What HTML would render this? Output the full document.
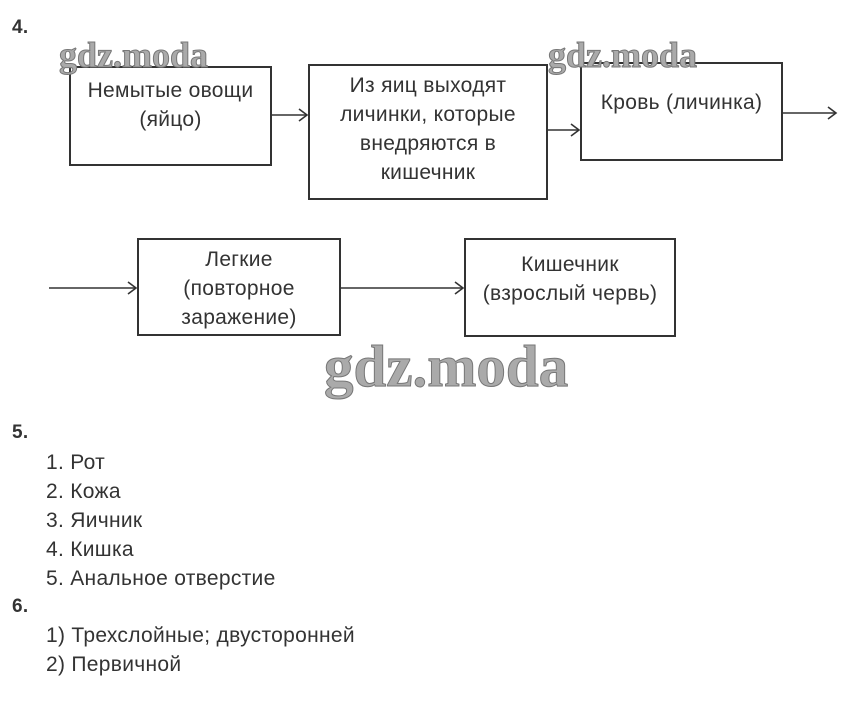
<!DOCTYPE html>
<html><head><meta charset="utf-8"><style>
body{margin:0;width:847px;height:726px;background:#fff;position:relative;overflow:hidden;font-family:"Liberation Sans",sans-serif;color:#333;}
.t{position:absolute;font-size:21px;letter-spacing:0.3px;line-height:29px;white-space:nowrap;}
.b{position:absolute;border:2px solid #333;box-sizing:border-box;}
.c{position:absolute;font-size:21px;letter-spacing:0.3px;line-height:29px;text-align:center;color:#333;white-space:nowrap;}
.w{position:absolute;font-family:"Liberation Serif",serif;font-weight:bold;color:#aaa;-webkit-text-stroke:1px #777;letter-spacing:0px;white-space:nowrap;}
</style></head><body>
<div class="t" style="left:12px;top:13px;font-weight:bold;font-size:19px;">4.</div>

<div class="b" style="left:69px;top:66px;width:203px;height:100px;"></div>
<div class="c" style="left:69px;top:76px;width:203px;">Немытые овощи<br>(яйцо)</div>
<div class="b" style="left:308px;top:64px;width:240px;height:136px;"></div>
<div class="c" style="left:308px;top:71px;width:240px;">Из яиц выходят<br>личинки, которые<br>внедряются в<br>кишечник</div>
<div class="b" style="left:580px;top:62px;width:203px;height:99px;"></div>
<div class="c" style="left:580px;top:88px;width:203px;">Кровь (личинка)</div>
<div class="b" style="left:137px;top:238px;width:204px;height:98px;"></div>
<div class="c" style="left:137px;top:245px;width:204px;">Легкие<br>(повторное<br>заражение)</div>
<div class="b" style="left:464px;top:238px;width:212px;height:99px;"></div>
<div class="c" style="left:464px;top:250px;width:212px;">Кишечник<br>(взрослый червь)</div>

<svg style="position:absolute;left:0;top:0" width="847" height="726">
<g stroke="#333" stroke-width="1.6" fill="none">
<line x1="272" y1="115" x2="307" y2="115"/><polyline points="299,109 307,115 299,121"/>
<line x1="548" y1="130" x2="579" y2="130"/><polyline points="571,124 579,130 571,136"/>
<line x1="783" y1="113" x2="836" y2="113"/><polyline points="828,107 836,113 828,119"/>
<line x1="49" y1="288" x2="136" y2="288"/><polyline points="128,282 136,288 128,294"/>
<line x1="341" y1="288" x2="463" y2="288"/><polyline points="455,282 463,288 455,294"/>
</g></svg>

<div class="w" style="left:59px;top:34px;font-size:36px;">gdz.moda</div>
<div class="w" style="left:548px;top:34px;font-size:36px;">gdz.moda</div>
<div class="w" style="left:324px;top:332px;font-size:59px;">gdz.moda</div>

<div class="t" style="left:12px;top:418px;font-weight:bold;font-size:19px;">5.</div>
<div class="t" style="left:46px;top:448px;">1. Рот</div>
<div class="t" style="left:46px;top:477px;">2. Кожа</div>
<div class="t" style="left:46px;top:506px;">3. Яичник</div>
<div class="t" style="left:46px;top:535px;">4. Кишка</div>
<div class="t" style="left:46px;top:564px;">5. Анальное отверстие</div>
<div class="t" style="left:12px;top:592px;font-weight:bold;font-size:19px;">6.</div>
<div class="t" style="left:46px;top:621px;">1) Трехслойные; двусторонней</div>
<div class="t" style="left:46px;top:650px;">2) Первичной</div>
</body></html>
